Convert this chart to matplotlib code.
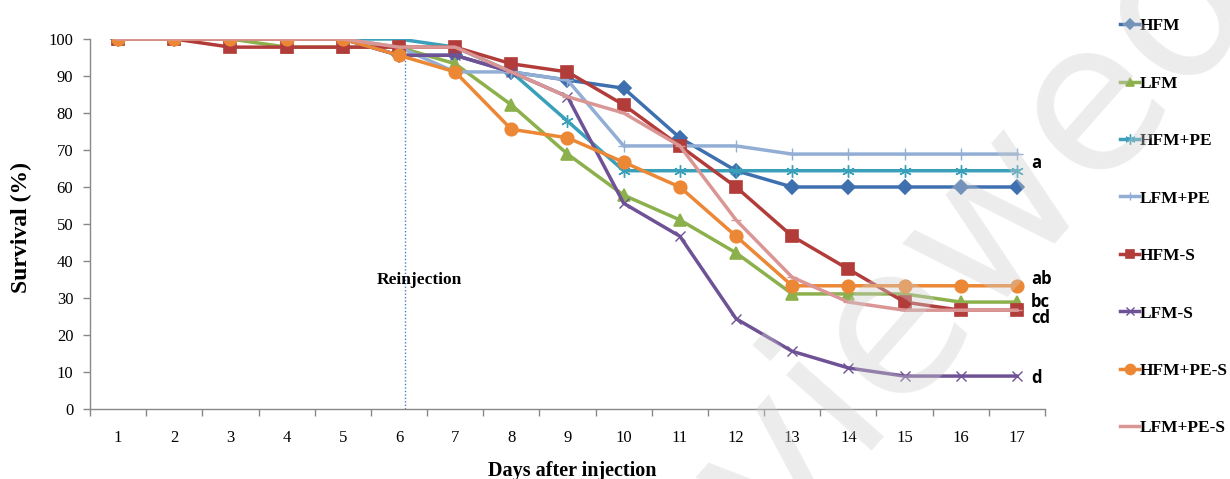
import matplotlib
matplotlib.use("Agg")
import matplotlib.pyplot as plt

days = list(range(1, 18))
series_names = ["HFM", "LFM", "HFM+PE", "LFM+PE", "HFM-S", "LFM-S", "HFM+PE-S", "LFM+PE-S"]

hfm      = [100, 100, 100, 100, 100, 95.6, 95.6, 91.1, 88.9, 86.7, 73.3, 64.4, 60.0, 60.0, 60.0, 60.0, 60.0]
lfm      = [100, 100, 100, 97.8, 97.8, 97.8, 93.3, 82.2, 68.9, 57.8, 51.1, 42.2, 31.1, 31.1, 31.1, 28.9, 28.9]
hfm_pe   = [100, 100, 100, 100, 100, 100, 97.8, 91.1, 77.8, 64.4, 64.4, 64.4, 64.4, 64.4, 64.4, 64.4, 64.4]
lfm_pe   = [100, 100, 100, 100, 100, 97.8, 91.1, 91.1, 88.9, 71.1, 71.1, 71.1, 68.9, 68.9, 68.9, 68.9, 68.9]
hfm_s    = [100, 100, 97.8, 97.8, 97.8, 97.8, 97.8, 93.3, 91.1, 82.2, 71.1, 60.0, 46.7, 37.8, 28.9, 26.7, 26.7]
lfm_s    = [100, 100, 100, 100, 100, 95.6, 95.6, 91.1, 84.4, 55.6, 46.7, 24.4, 15.6, 11.1, 8.9, 8.9, 8.9]
hfm_pe_s = [100, 100, 100, 100, 100, 95.6, 91.1, 75.6, 73.3, 66.7, 60.0, 46.7, 33.3, 33.3, 33.3, 33.3, 33.3]
lfm_pe_s = [100, 100, 100, 100, 100, 97.8, 97.8, 91.1, 84.4, 80.0, 71.1, 51.1, 35.6, 28.9, 26.7, 26.7, 26.7]

all_series = [hfm, lfm, hfm_pe, lfm_pe, hfm_s, lfm_s, hfm_pe_s, lfm_pe_s]

colors = ["#3e70b0", "#8cb04c", "#3aa0ba", "#92aed4", "#b23c3a", "#6f5295", "#ec8735", "#d99694"]
markers = ["D", "^", (6, 2, 0), "+", "s", "x", "o", "_"]
msizes = [7, 8, 9, 8, 8, 7, 9, 7]

sig_labels = ["a", "ab", "bc", "cd", "d"]
sig_values = [66.5, 35.1, 28.9, 24.6, 8.4]

reinjection_day = 6.1
reinjection_top = 95.6

fig = plt.figure(figsize=(12.3, 4.79), dpi=100)
ax = fig.add_axes([90 / 1230, 1 - 409 / 479, 955 / 1230, 370 / 479])

serif = ["Liberation Serif", "DejaVu Serif"]

handles = []
for name, vals, c, m, ms in zip(series_names, all_series, colors, markers, msizes):
    thin = m in ("+", "x", "_") or isinstance(m, tuple)
    ln, = ax.plot(days, vals, color=c, lw=2.5, marker=m, markersize=ms,
                  markerfacecolor=c, markeredgecolor=c,
                  markeredgewidth=1.0 if thin else 1.2,
                  label=name, solid_joinstyle="round", zorder=3)
    handles.append(ln)

# Reinjection marker line
ax.vlines(reinjection_day, 0, reinjection_top, colors="#4a7ebb", linestyles=(0, (1, 1.5)), lw=1.0, zorder=2)
ax.text(5.61, 34.9, "Reinjection", fontsize=12.5, fontweight="bold", family=serif,
        ha="left", va="center")

# significance letters
for lab, v in zip(sig_labels, sig_values):
    ax.text(17.25, v, lab, fontsize=12, fontweight="bold", family=["Open Sans", "DejaVu Sans"],
            ha="left", va="center")

ax.set_xlim(0.5, 17.5)
ax.set_ylim(0, 100)
ax.set_xticks(days)
ax.set_xticklabels([str(d) for d in days], family=serif, fontsize=12)
ax.set_xticks([d + 0.5 for d in [0] + days], minor=True)
ax.tick_params(axis="x", which="major", length=0, pad=15)
ax.tick_params(axis="x", which="minor", length=5, direction="out", color="#888888", width=1)
ax.set_yticks(range(0, 101, 10))
ax.set_yticklabels([str(v) for v in range(0, 101, 10)], family=serif, fontsize=12)
ax.tick_params(axis="y", length=5, direction="out", color="#888888", width=1, pad=7)

for s in ["top", "right"]:
    ax.spines[s].set_visible(False)
for s in ["left", "bottom"]:
    ax.spines[s].set_color("#888888")
    ax.spines[s].set_linewidth(1)

ax.set_ylabel("Survival (%)", fontsize=17, fontweight="bold", family=serif)
ax.yaxis.set_label_coords(-0.0607, 0.49)
ax.set_xlabel("Days after injection", fontsize=14.5, fontweight="bold", family=serif)
ax.xaxis.set_label_coords(0.505, -0.14)

leg = fig.legend(handles=handles, loc="upper left", bbox_to_anchor=(1120 / 1230, 1 - 18 / 479),
                 frameon=False, handlelength=1.1, handletextpad=0.05, labelspacing=2.38,
                 borderpad=0, borderaxespad=0, markerscale=0.8,
                 prop={"family": serif, "weight": "bold", "size": 12.5})

# faint watermark
fig.text(885 / 1230, 1 - 325 / 479, "Reviewed", fontsize=150, color="#cfcfcf", alpha=0.38,
         rotation=48.5, ha="center", va="center", family="DejaVu Sans", zorder=10)

fig.savefig("out.png", dpi=100)
